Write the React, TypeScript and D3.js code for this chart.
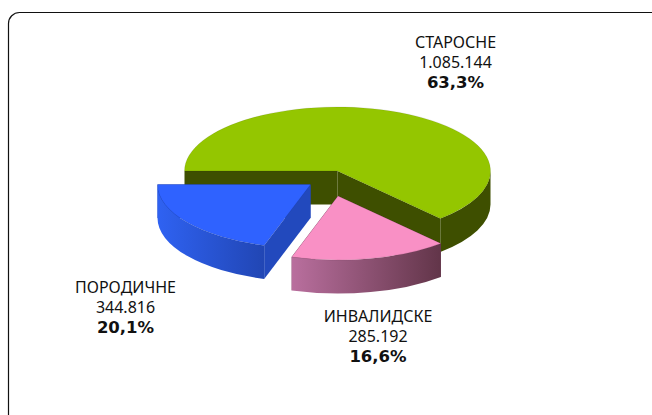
import React from "react";
import * as d3 from "d3";

const categories = ["СТАРОСНЕ", "ИНВАЛИДСКЕ", "ПОРОДИЧНЕ"];
const amounts = [1085144, 285192, 344816];
const amountLabels = ["1.085.144", "285.192", "344.816"];
const percentLabels = ["63,3%", "16,6%", "20,1%"];
const topColors = ["#94c600", "#f990c5", "#2f62ff"];
const wallColors = ["#3e4f00", "#6a3a55", "#2249bd"];
const sideFrom = ["#3e4f00", "#b96f9e", "#2f62f2"];
const sideTo = ["#3e4f00", "#623549", "#2146b4"];

const W = 652, H = 415;
const cx = 337.5, cy = 171, rx = 153, ry = 64, depth = 33.5;
const offsets: [number, number][] = [[0, 0], [0.5, 25], [-27, 13.5]];
const labelPos: [number, number][] = [[455.5, 47.5], [378, 321.5], [125.5, 292.5]];

const xs = d3.scaleLinear().domain([-1, 1]).range([-rx, rx]);
const ys = d3.scaleLinear().domain([-1, 1]).range([-ry, ry]);
const pie = d3.pie<number>().sort(null).startAngle(-Math.PI / 2).endAngle((3 * Math.PI) / 2);
const arcs = pie(amounts);

const pt = (a: number, ox: number, oy: number, dz = 0): [number, number] => [
  cx + ox + xs(Math.sin(a)),
  cy + oy + dz + ys(-Math.cos(a)),
];
const large = (a0: number, a1: number) => (a1 - a0 > Math.PI ? 1 : 0);

function topPath(a0: number, a1: number, ox: number, oy: number) {
  const p0 = pt(a0, ox, oy), p1 = pt(a1, ox, oy);
  return `M${cx + ox},${cy + oy}L${p0}A${rx},${ry} 0 ${large(a0, a1)} 1 ${p1}Z`;
}
function wall(a: number, ox: number, oy: number) {
  const c: [number, number] = [cx + ox, cy + oy];
  const p = pt(a, ox, oy);
  return `M${c}L${p}L${p[0]},${p[1] + depth}L${c[0]},${c[1] + depth}Z`;
}
function outer(a0: number, a1: number, ox: number, oy: number) {
  const s = Math.max(a0, Math.PI / 2), e = Math.min(a1, (3 * Math.PI) / 2);
  const p0 = pt(s, ox, oy), p1 = pt(e, ox, oy);
  const q1 = pt(e, ox, oy, depth), q0 = pt(s, ox, oy, depth);
  return {
    d: `M${p0}A${rx},${ry} 0 0 1 ${p1}L${q1}A${rx},${ry} 0 0 0 ${q0}Z`,
    x0: Math.min(p0[0], p1[0]),
    x1: Math.max(p0[0], p1[0]),
  };
}

export default function App() {
  return (
    <svg width={W} height={H} style={{ position: "absolute", left: 0, top: 0, background: "#fff" }}>
      <defs>
        {arcs.map((a, i) => {
          const o = outer(a.startAngle, a.endAngle, offsets[i][0], offsets[i][1]);
          return (
            <linearGradient key={i} id={`side${i}`} gradientUnits="userSpaceOnUse" x1={o.x0} x2={o.x1} y1={0} y2={0}>
              <stop offset="0" stopColor={sideFrom[i]} />
              <stop offset="1" stopColor={sideTo[i]} />
            </linearGradient>
          );
        })}
      </defs>
      <rect x={8.5} y={12.5} width={720} height={480} rx={11} fill="#fff" stroke="#111" strokeWidth={1.2} />
      {arcs.map((a, i) => {
        const [ox, oy] = offsets[i];
        const o = outer(a.startAngle, a.endAngle, ox, oy);
        return (
          <g key={i}>
            <path d={wall(a.startAngle, ox, oy)} fill={wallColors[i]} />
            <path d={wall(a.endAngle, ox, oy)} fill={wallColors[i]} />
            <path d={o.d} fill={`url(#side${i})`} />
            <path d={topPath(a.startAngle, a.endAngle, ox, oy)} fill={topColors[i]} stroke="#000" strokeOpacity={0.15} strokeWidth={0.6} />
          </g>
        );
      })}
      {categories.map((c, i) => (
        <text key={c} textAnchor="middle" fontFamily="'Noto Sans', sans-serif" fill="#111" fontSize={16}>
          <tspan x={labelPos[i][0]} y={labelPos[i][1]}>{c}</tspan>
          <tspan x={labelPos[i][0]} dy={20}>{amountLabels[i]}</tspan>
          <tspan x={labelPos[i][0]} dy={20.5} fontWeight="bold" fontFamily="'DejaVu Sans', sans-serif" fontSize={16.5}>{percentLabels[i]}</tspan>
        </text>
      ))}
    </svg>
  );
}
